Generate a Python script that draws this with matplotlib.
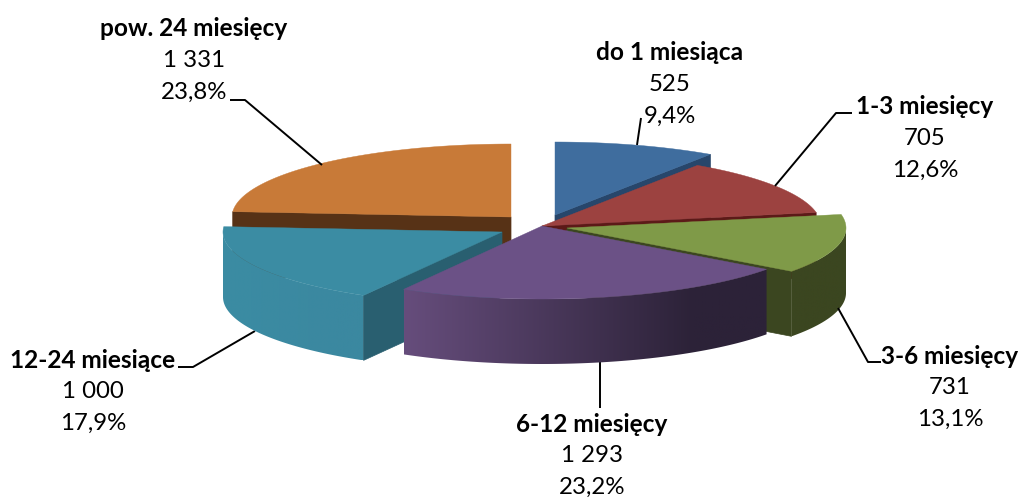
import numpy as np
import matplotlib
matplotlib.use("Agg")
import matplotlib.pyplot as plt
from matplotlib.colors import LinearSegmentedColormap
from matplotlib.patches import Polygon

plt.rcParams["font.family"] = ["Lato", "DejaVu Sans"]

# slices, clockwise from 12 o'clock
names = ["do 1 miesiąca", "1-3 miesięcy", "3-6 miesięcy", "6-12 miesięcy", "12-24 miesiące", "pow. 24 miesięcy"]
values = [525, 705, 731, 1293, 1000, 1331]
value_labels = ["525", "705", "731", "1 293", "1 000", "1 331"]
pct_labels = ["9,4%", "12,6%", "13,1%", "23,2%", "17,9%", "23,8%"]

top_colors = ["#3F6D9E", "#9C4240", "#7F9A48", "#6B5186", "#3B8CA3", "#C87A38"]
face_colors = ["#27466B", "#5C1A18", "#3B4620", "#2E2339", "#295F70", "#573216"]
wall_left = ["#3F6D9E", "#9C4240", "#3B4620", "#664D7C", "#3B8CA3", "#C87A38"]
wall_right = ["#27466B", "#5C1A18", "#3B4620", "#2C2238", "#3B88A0", "#C87A38"]

# exploded apex of each slice in pixels
apex_x = [555, 542, 567, 542, 502, 511]
apex_y = [215, 226, 228, 226, 232, 217]
rx, ry, depth = 279, 73, 65

label_x = [670, 925, 950, 592, 93, 194]
label_y = [53, 107, 356, 424, 360, 29]
line_gap = 31.5

# leader lines, slice index -> elbow and label end
leader_x = [[637, 641], [775, 836, 852], [838, 868, 881], [600, 600], [255, 193, 178], [322, 245, 230]]
leader_y = [[145, 118], [186, 113, 113], [308, 362, 362], [360, 408], [331, 367, 367], [165, 100, 100]]

fig = plt.figure(figsize=(10.19, 4.97), dpi=100)
ax = fig.add_axes([0, 0, 1, 1])

edges = np.cumsum([0] + values) / sum(values) * 2 * np.pi


def rim(i, t):
    return apex_x[i] + rx * np.sin(t), apex_y[i] - ry * np.cos(t)


def cut_face(i, t):
    x, y = rim(i, t)
    ax.fill([apex_x[i], x, x, apex_x[i]],
            [apex_y[i], y, y + depth, apex_y[i] + depth],
            color=face_colors[i], lw=0.5, zorder=z)


# back to front
for z, i in enumerate([5, 0, 1, 2, 4, 3]):
    t1, t2 = edges[i], edges[i + 1]

    # outer wall, only the part turned towards the viewer, gradient clipped to its shape
    w1, w2 = max(t1, np.pi / 2), min(t2, 1.5 * np.pi)
    if w2 > w1:
        ts = np.linspace(w1, w2, 100)
        xs, ys = rim(i, ts)
        outline = np.c_[np.r_[xs, xs[::-1]], np.r_[ys, ys[::-1] + depth]]
        cmap = LinearSegmentedColormap.from_list("wall", [(0, wall_left[i]), (0.8, wall_right[i]), (1, wall_right[i])])
        img = ax.imshow(np.linspace(0, 1, 256)[None, :], cmap=cmap, aspect="auto", zorder=z,
                        extent=(xs.min(), xs.max(), ys.max() + depth, ys.min()))
        img.set_clip_path(Polygon(outline, transform=ax.transData))

    if np.sin(t1) < 0:
        cut_face(i, t1)
    if np.sin(t2) > 0:
        cut_face(i, t2)

    ts = np.linspace(t1, t2, 80)
    xs, ys = rim(i, ts)
    ax.fill(np.r_[apex_x[i], xs], np.r_[apex_y[i], ys], color=top_colors[i], lw=0.3, zorder=z)

for i in range(len(names)):
    ax.plot(leader_x[i], leader_y[i], color="black", lw=1.4, zorder=1 if i in (3, 4) else 10,
            solid_capstyle="butt")
    ax.text(label_x[i], label_y[i], names[i], ha="center", va="center", fontsize=17.6, fontweight="bold", zorder=20)
    ax.text(label_x[i], label_y[i] + line_gap, value_labels[i], ha="center", va="center", fontsize=17.3, zorder=20)
    ax.text(label_x[i], label_y[i] + 2 * line_gap, pct_labels[i], ha="center", va="center", fontsize=17.3, zorder=20,
            bbox=dict(fc="white", ec="none", pad=1))

ax.set_xlim(0, 1019)
ax.set_ylim(497, 0)
ax.set_aspect("auto")
ax.axis("off")

fig.savefig("out.png", dpi=100)
